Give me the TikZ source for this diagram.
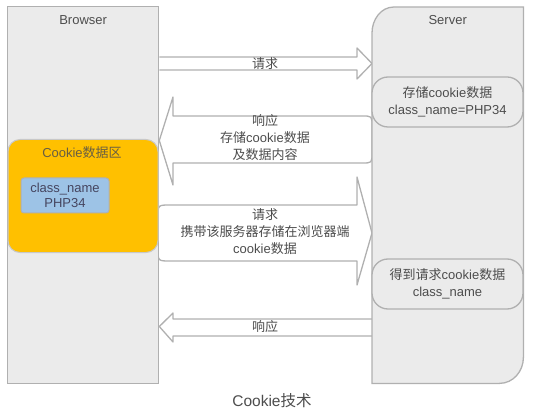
\documentclass[tikz,border=0pt]{standalone}
\usepackage{fontspec}
\setmainfont{Liberation Sans}
\newfontfamily\hanzi{Noto Sans CJK SC}
\usepackage{tikz}
\usetikzlibrary{positioning}
\definecolor{ckgray}{HTML}{EBEBEB}
\definecolor{ckedge}{HTML}{B0B0B0}
\definecolor{ckorange}{HTML}{FFC000}
\definecolor{ckblue}{HTML}{9DC3E6}
\definecolor{ckink}{HTML}{4D4D4D}
\tikzset{
  cookie-panel/.style={draw=ckedge, fill=ckgray, line width=1.3pt, inner sep=0pt},
  cookie-frame/.style={inner sep=0pt},
  cookie-zone/.style={draw=ckedge!70, fill=ckorange, rounded corners=12pt, line width=1pt, inner sep=0pt},
  cookie-item/.style={draw=ckedge, fill=ckblue, rounded corners=3pt, line width=1pt,
    align=center, inner sep=0pt, text=ckink!90!blue, font=\fontsize{13}{15}\selectfont},
  cookie-store/.style={draw=ckedge, fill=ckgray, rounded corners=16pt, line width=1.3pt,
    align=center, inner sep=0pt, text=ckink, font=\fontsize{13}{17}\selectfont},
  cookie-arrow/.style={draw=ckedge, fill=white, line width=1.3pt, line join=round},
  cookie-text/.style={align=center, inner sep=0pt, text=ckink, font=\fontsize{13}{17}\selectfont}
}
\begin{document}
\begin{tikzpicture}[x=1pt, y=-1pt]
  \useasboundingbox (0,0) rectangle (545,419);
  % the two sides
  \node[cookie-panel, anchor=north west, minimum width=151pt, minimum height=377pt] (browser) at (7,6) {};
  \node[cookie-frame, anchor=north west, minimum width=151pt, minimum height=376pt] (server) at (372,7) {};
  % request / response arrows
  \draw[cookie-arrow] (browser.east |- 0,57) -- (357,57) -- (357,48) -- (server.west |- 0,63.5)
    -- (357,79) -- (357,70) -- (browser.east |- 0,70);
  \draw[cookie-arrow] (173,116) -- (362,116) .. controls (372,116) .. (372,126) -- (372,153)
    .. controls (372,163) .. (362,163) -- (173,163) -- (173,185) -- (browser.east |- 0,140.5)
    -- (173,97) -- cycle;
  \draw[cookie-arrow] (357,205) -- (170,205) .. controls (158,205) .. (158,217) -- (158,249)
    .. controls (158,261) .. (170,261) -- (357,261) -- (357,285) -- (server.west |- 0,233)
    -- (357,177) -- cycle;
  \draw[cookie-arrow] (server.west |- 0,319) -- (173,319) -- (173,313) -- (browser.east |- 0,326.5)
    -- (173,342) -- (173,336) -- (server.west |- 0,336);
  % panels on top of the arrow ends
  \node[cookie-panel, anchor=north west, minimum width=151pt, minimum height=377pt] at (browser.north west) {};
  \draw[cookie-panel] (server.south west) -- ([yshift=-26pt]server.north west)
    to[out=90, in=180] ([xshift=22pt]server.north west) -- (server.north east)
    -- ([yshift=26pt]server.south east) to[out=-90, in=0] ([xshift=-24pt]server.south east) -- cycle;
  \node[cookie-text, below=9pt of browser.north] (browsertitle) {Browser};
  \node[cookie-text, below=8pt of server.north] (servertitle) {Server};
  % browser cookie area
  \node[cookie-zone, anchor=north west, minimum width=150pt, minimum height=113pt] (zone) at (7.5,139) {};
  \node[cookie-text, text=ckink!85!ckorange] (zonetitle) at (82,153) {Cookie{\hanzi 数据区}};
  \node[cookie-item, minimum width=88pt, minimum height=35pt] (item) at (65,195.5) {class\_name\\PHP34};
  % server side storage
  \node[cookie-store, minimum width=151pt, minimum height=50pt] (store) at (447.5,102)
    {{\hanzi 存储}cookie{\hanzi 数据}\\class\_name=PHP34};
  \node[cookie-store, minimum width=151pt, minimum height=50pt] (fetch) at (447.5,284)
    {{\hanzi 得到请求}cookie{\hanzi 数据}\\class\_name};
  % labels on the arrows
  \node[cookie-text] (request) at (265,63.5) {\hanzi 请求};
  \node[cookie-text] (response) at (265,138) {{\hanzi 响应}\\{\hanzi 存储}cookie{\hanzi 数据}\\{\hanzi 及数据内容}};
  \node[cookie-text] (resend) at (265,232) {{\hanzi 请求}\\{\hanzi 携带该服务器存储在浏览器端}\\cookie{\hanzi 数据}};
  \node[cookie-text] (reply) at (265,327) {\hanzi 响应};
  \node[cookie-text, font=\fontsize{15.5}{18}\selectfont] (caption) at (272,401) {Cookie{\hanzi 技术}};
\end{tikzpicture}
\end{document}
